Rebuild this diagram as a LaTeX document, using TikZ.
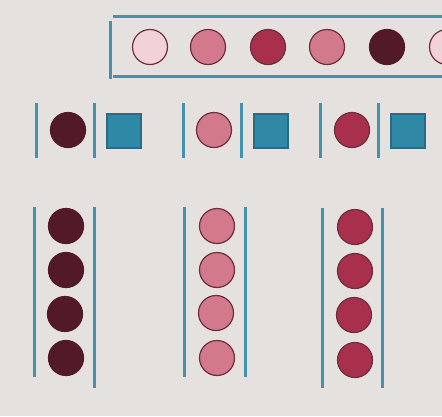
\documentclass[tikz,border=0pt]{standalone}
\usetikzlibrary{positioning}
\definecolor{paper}{HTML}{E5E1DF}
\definecolor{rail}{HTML}{4393AE}
\definecolor{blush}{HTML}{F3D1D9}
\definecolor{rose}{HTML}{D27A8C}
\definecolor{crimson}{HTML}{A9304C}
\definecolor{wine}{HTML}{521A27}
\definecolor{rim}{HTML}{6E2C3C}
\definecolor{tile}{HTML}{2F88A6}
\definecolor{tileline}{HTML}{2A6A82}
\tikzset{x=1pt, y=-1pt, % one unit is one pixel of the reference
        bead/.style={ % Sets the properties for each ball
            circle,
            minimum size=35pt,
            inner sep=0pt,
            draw=rim,
            line width=1.2pt},
        railline/.style={ % the blue bars
            draw=rail,
            line width=3pt},
        tilebox/.style={ % the blue squares
            rectangle,
            minimum size=34pt,
            inner sep=0pt,
            fill=tile,
            draw=tileline,
            line width=1.2pt}
        }
\begin{document}
\begin{tikzpicture}
    \fill[paper] (0,0) rectangle (442,416);
    \useasboundingbox (0,0) rectangle (442,416);

    % top row
    \draw[railline] (113,16) -- (442,16);
    \draw[railline] (113,76) -- (442,76);
    \draw[railline] (110,21) -- (110,79);
    \node[bead, fill=blush]   (t1) at (150,47) {};
    \node[bead, fill=rose]    (t2) at (208,47) {};
    \node[bead, fill=crimson] (t3) at (268,47) {};
    \node[bead, fill=rose]    (t4) at (327,47) {};
    \node[bead, fill=wine, draw=wine] (t5) at (387,47) {};
    \node[bead, fill=blush]   (t6) at (447,47) {};

    % middle row
    \draw[railline] (36,103) -- (36,158);
    \draw[railline] (94,103) -- (94,158);
    \node[bead, fill=wine, draw=wine] (m1) at (68,130) {};
    \node[tilebox] (s1) at (124,131) {};

    \draw[railline] (183,103) -- (183,158);
    \draw[railline] (241,103) -- (241,158);
    \node[bead, fill=rose] (m2) at (214,130) {};
    \node[tilebox] (s2) at (271,131) {};

    \draw[railline] (320,103) -- (320,158);
    \draw[railline] (378,103) -- (378,158);
    \node[bead, fill=crimson] (m3) at (352,130) {};
    \node[tilebox] (s3) at (408,131) {};

    % bottom columns
    \draw[railline] (34,207) -- (34,377);
    \draw[railline] (94,207) -- (94,388);
    \node[bead, fill=wine, draw=wine] (a1) at (66,226) {};
    \node[bead, fill=wine, draw=wine] (a2) at (66,270) {};
    \node[bead, fill=wine, draw=wine] (a3) at (65,314) {};
    \node[bead, fill=wine, draw=wine] (a4) at (66,358) {};

    \draw[railline] (184,207) -- (184,377);
    \draw[railline] (245,207) -- (245,377);
    \node[bead, fill=rose] (b1) at (217,226) {};
    \node[bead, fill=rose] (b2) at (217,270) {};
    \node[bead, fill=rose] (b3) at (216,313) {};
    \node[bead, fill=rose] (b4) at (217,358) {};

    \draw[railline] (322,208) -- (322,388);
    \draw[railline] (382,208) -- (382,388);
    \node[bead, fill=crimson] (c1) at (355,227) {};
    \node[bead, fill=crimson] (c2) at (355,271) {};
    \node[bead, fill=crimson] (c3) at (354,315) {};
    \node[bead, fill=crimson] (c4) at (355,360) {};
\end{tikzpicture}
\end{document}
